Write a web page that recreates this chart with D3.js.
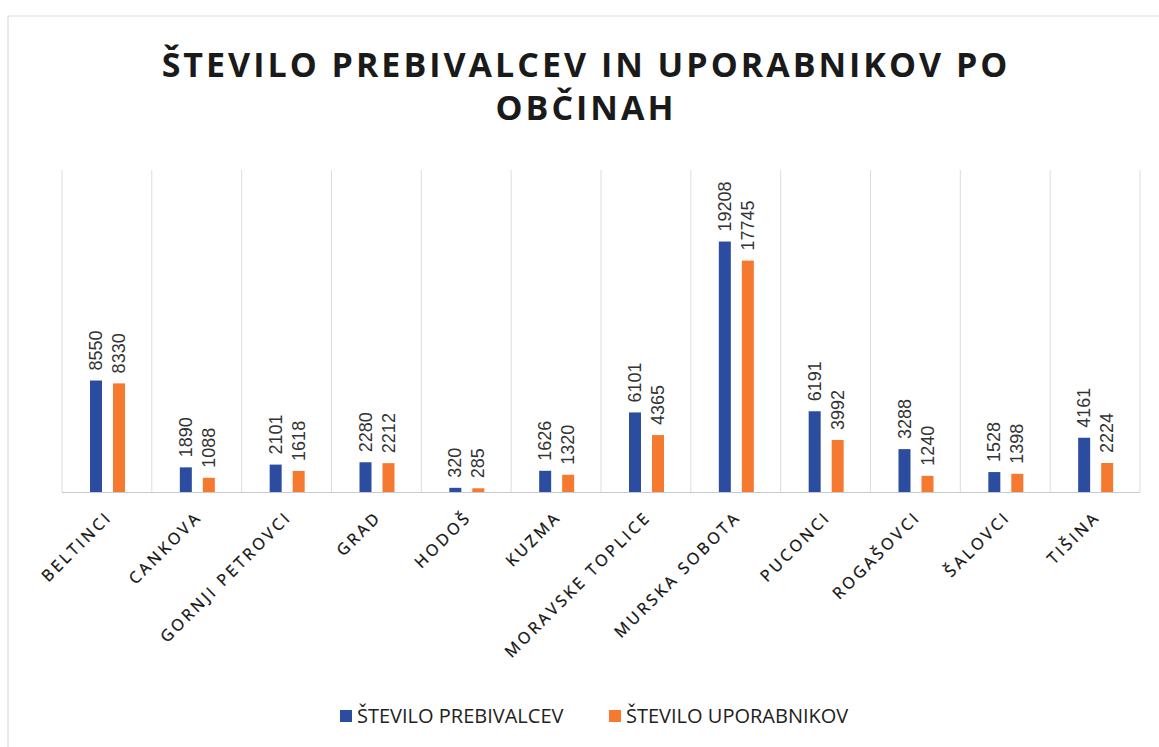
<!DOCTYPE html>
<html><head><meta charset="utf-8">
<script src="https://cdn.jsdelivr.net/npm/d3@7"></script>
<style>body{margin:0;background:#fff;}svg{display:block;}</style>
</head><body>
<svg id="c" width="1159" height="747"></svg>
<script>
const categories = ["BELTINCI","CANKOVA","GORNJI PETROVCI","GRAD","HODOŠ","KUZMA","MORAVSKE TOPLICE","MURSKA SOBOTA","PUCONCI","ROGAŠOVCI","ŠALOVCI","TIŠINA"];
const prebivalci = [8550,1890,2101,2280,320,1626,6101,19208,6191,3288,1528,4161];
const uporabniki = [8330,1088,1618,2212,285,1320,4365,17745,3992,1240,1398,2224];
const seriesNames = ["ŠTEVILO PREBIVALCEV","ŠTEVILO UPORABNIKOV"];
const colors = ["#2C4C9F","#F57A2F"];
const titleLines = ["ŠTEVILO PREBIVALCEV IN UPORABNIKOV PO","OBČINAH"];

const svg = d3.select("#c");
const m = {l:62, r:1140, t:166, b:492};
svg.append("rect").attr("x",0).attr("y",0).attr("width",1159).attr("height",747).attr("fill","#fff");
// frame
svg.append("line").attr("x1",8).attr("x2",8).attr("y1",16).attr("y2",747).attr("stroke","#d4d4d4");
svg.append("line").attr("x1",8).attr("x2",1159).attr("y1",16).attr("y2",16).attr("stroke","#dcdcdc");

const x = d3.scaleBand().domain(categories).range([m.l,m.r]);
const x1 = d3.scaleBand().domain([0,1]).range([28,63]).paddingInner(11/23).paddingOuter(0);
const y = d3.scaleLinear().domain([0,25000]).range([m.b,m.t]);

// vertical gridlines at category boundaries
const bounds = categories.map(c=>x(c)).concat([m.r]);
svg.append("g").selectAll("line").data(bounds).join("line")
  .attr("x1",d=>d).attr("x2",d=>d).attr("y1",170).attr("y2",m.b)
  .attr("stroke","#dcdcdc").attr("stroke-width",1);

// baseline
svg.append("line").attr("x1",m.l).attr("x2",m.r).attr("y1",m.b+0.5).attr("y2",m.b+0.5).attr("stroke","#c8c8d4");

const data = categories.map((c,i)=>({c, v:[prebivalci[i], uporabniki[i]]}));
const g = svg.append("g").selectAll("g").data(data).join("g").attr("transform",d=>`translate(${x(d.c)},0)`);
g.selectAll("rect").data(d=>d.v.map((v,k)=>({v,k}))).join("rect")
  .attr("x",d=>x1(d.k)).attr("width",x1.bandwidth())
  .attr("y",d=>y(d.v)).attr("height",d=>y(0)-y(d.v))
  .attr("fill",d=>colors[d.k]);
g.selectAll("text").data(d=>d.v.map((v,k)=>({v,k}))).join("text")
  .attr("transform",d=>`translate(${x1(d.k)+x1.bandwidth()/2+6},${y(d.v)-10}) rotate(-90)`)
  .attr("font-family","'Liberation Sans', Arial, sans-serif").attr("font-size",18)
  .attr("fill","#333").text(d=>d.v);

// category labels
svg.append("g").selectAll("text").data(categories).join("text")
  .attr("transform",c=>`translate(${x(c)+x.bandwidth()/2+6},${m.b+26}) rotate(-45)`)
  .attr("text-anchor","end")
  .attr("font-family","'Open Sans', sans-serif").attr("font-size",16)
  .attr("letter-spacing","3px").attr("fill","#111").attr("stroke","#111").attr("stroke-width",0.3).text(c=>c);

// title
svg.append("g").selectAll("text").data(titleLines).join("text")
  .attr("x",586).attr("y",(d,i)=>77+i*43).attr("text-anchor","middle")
  .attr("font-family","'Open Sans', sans-serif").attr("font-weight","bold")
  .attr("font-size",34).attr("letter-spacing","3px").attr("fill","#1a1a1a").text(d=>d);

// legend
const leg = svg.append("g");
const lx = [340, 609];
seriesNames.forEach((s,i)=>{
  leg.append("rect").attr("x",lx[i]).attr("y",710).attr("width",12).attr("height",12).attr("fill",colors[i]);
  leg.append("text").attr("x",lx[i]+17).attr("y",723).attr("font-family","'Open Sans', sans-serif")
    .attr("font-size",20).attr("fill","#222").text(s);
});
</script>
</body></html>
